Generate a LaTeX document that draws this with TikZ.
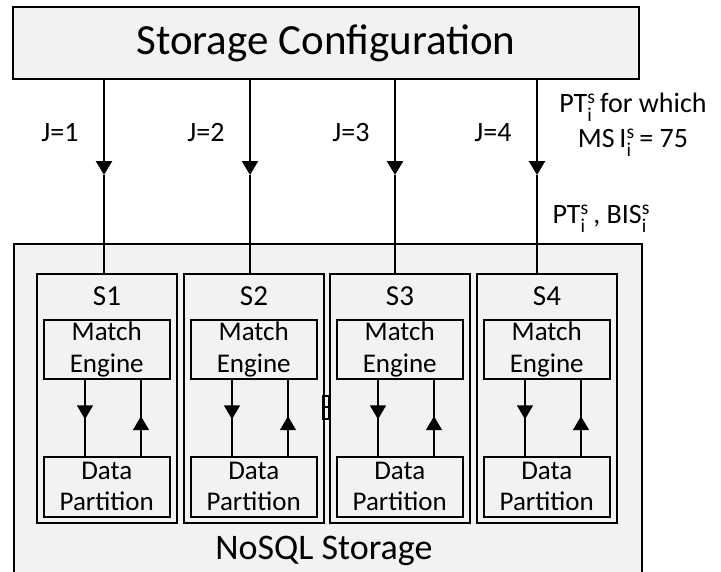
\documentclass[tikz,border=0pt]{standalone}
\usepackage{amsmath}
\usepackage{fontspec}
\setmainfont{Carlito}
\usetikzlibrary{arrows.meta,decorations.markings}
\definecolor{panelgray}{HTML}{F2F2F2}
\tikzset{
 panel/.style={draw,line width=1.5pt,fill=panelgray,inner sep=0pt},
 module/.style={panel,minimum width=126pt,align=center,font=\fontsize{27}{32}\selectfont},
 feed/.style={line width=2.5pt,-{Triangle[width=16pt,length=14pt]}},
 flow/.style={line width=1.6pt,postaction={decorate},
   decoration={markings,mark=at position 0.52 with {\arrow{Triangle[width=16pt,length=14pt]}}}},
 jlabel/.style={font=\fontsize{28}{32}\selectfont},
 note/.style={font=\fontsize{28}{35}\selectfont,align=center}
}
\newcommand{\supsub}[2]{$^{\text{#2}}_{\text{#1}}$\,}

\begin{document}
\begin{tikzpicture}[x=1pt,y=-1pt]
\useasboundingbox (0,0) rectangle (721,571);

\begin{scope}
\clip (0,0) rectangle (721,571);
\node[panel,anchor=north west,minimum width=628pt,minimum height=360pt] (nosql) at (13,243) {};
\end{scope}
\node[font=\fontsize{36}{40}\selectfont] (nosqltext) at (324,551) {NoSQL Storage};

\node[panel,minimum width=626pt,minimum height=72pt,font=\fontsize{43}{48}\selectfont] (config) at (326,43) {Storage Configuration};

\foreach \i/\x/\a in {1/36/104,2/183/250,3/329/395,4/476/537}
{
\node[panel,anchor=north west,minimum width=140pt,minimum height=249pt] (s\i) at (\x,273) {};
\node[font=\fontsize{29}{32}\selectfont] (sl\i) at (\x+71,296) {S\i};
\node[module,anchor=north west,minimum height=59pt] (me\i) at (\x+7,319) {Match\\Engine};
\node[module,anchor=north west,minimum height=60pt,font=\fontsize{27}{31}\selectfont] (dp\i) at (\x+7,456) {Data\\Partition};
\draw[flow] ([xshift=42pt]me\i.south west) -- ([xshift=42pt]dp\i.north west);
\draw[flow] ([xshift=98pt]dp\i.north west) -- ([xshift=98pt]me\i.south west);
\coordinate (mid\i) at (\a,175);
\draw[feed] (config.south -| mid\i) -- (mid\i);
\draw[line width=1.6pt] (mid\i) -- (s\i.north -| mid\i);
\node[jlabel] (j\i) at (\a-44,133) {J=\i};
}

\draw[line width=1.2pt] (323,396) rectangle (329,419) (323,407) -- (329,407);

\node[note] (which) at (633,125) {PT\supsub{i}{s}for which\\MS\,I\supsub{i}{s}= 75};
\node[note,anchor=west] (bis) at (549,219) {PT\supsub{i}{s}, BIS\supsub{i}{s}};
\end{tikzpicture}
\end{document}
